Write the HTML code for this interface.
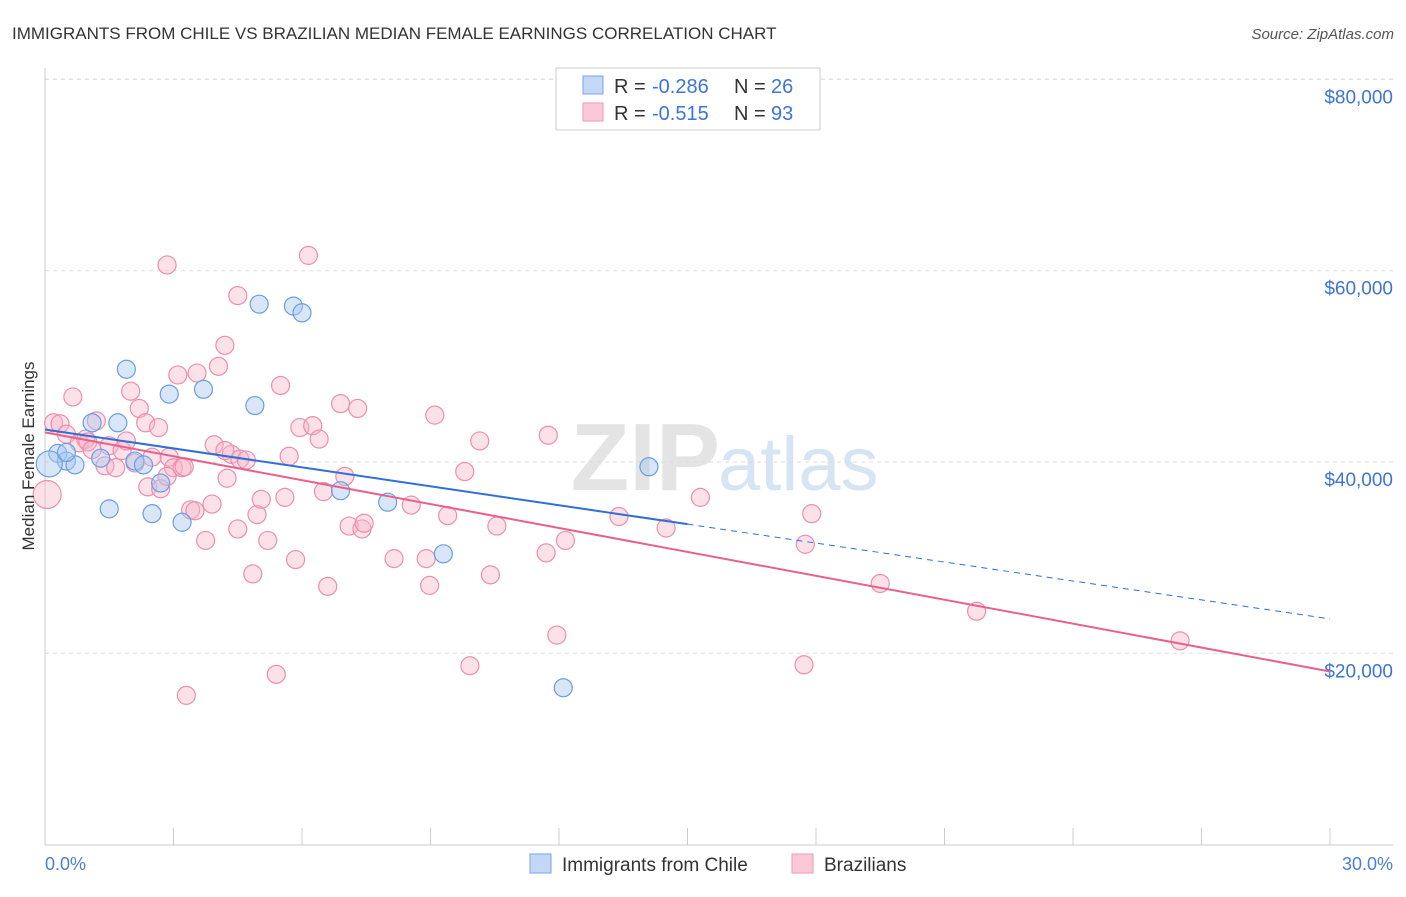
<!DOCTYPE html>
<html><head><meta charset="utf-8"><style>
body{margin:0;background:#fff;font-family:"Liberation Sans",sans-serif;}
svg text{font-family:"Liberation Sans",sans-serif;}
</style></head><body>
<svg width="1406" height="892" viewBox="0 0 1406 892">
<text x="12" y="39" font-size="17" fill="#333">IMMIGRANTS FROM CHILE VS BRAZILIAN MEDIAN FEMALE EARNINGS CORRELATION CHART</text>
<text x="1394" y="39" font-size="15" fill="#555" font-style="italic" text-anchor="end">Source: ZipAtlas.com</text>
<text x="720" y="490" font-size="96" font-weight="bold" fill="#e4e4e4" text-anchor="end" font-family="Liberation Serif">ZIP</text>
<text x="718" y="490" font-size="76" fill="#d6e4f4">atlas</text>
<g id="grid"></g>
<line x1="45" y1="68" x2="45" y2="845" stroke="#ccc"/>
<line x1="45" y1="845" x2="1393" y2="845" stroke="#ccc"/>
<g id="pts"></g>
<g id="lines"></g>
<text x="34" y="456" font-size="17" fill="#333" text-anchor="middle" transform="rotate(-90 34 456)">Median Female Earnings</text>
<text x="45" y="870" font-size="18" fill="#4a7fd4">0.0%</text>
<text x="1393" y="870" font-size="18" fill="#4a7fd4" text-anchor="end">30.0%</text>
<g>
<rect x="556" y="68" width="264" height="62" fill="#fff" stroke="#ccc"/>
<rect x="583" y="76" width="20" height="18" fill="#c2d8f6" stroke="#7aa6e4"/>
<rect x="583" y="103" width="20" height="18" fill="#fbc8d8" stroke="#ee9ab6"/>
<text x="614" y="93" font-size="20" fill="#333">R =</text>
<text x="652" y="93" font-size="20" fill="#3d74d6">-0.286</text>
<text x="734" y="93" font-size="20" fill="#333">N =</text>
<text x="771" y="93" font-size="20" fill="#3d74d6">26</text>
<text x="614" y="120" font-size="20" fill="#333">R =</text>
<text x="652" y="120" font-size="20" fill="#3d74d6">-0.515</text>
<text x="734" y="120" font-size="20" fill="#333">N =</text>
<text x="771" y="120" font-size="20" fill="#3d74d6">93</text>
</g>
<g>
<rect x="530" y="854" width="21" height="19" fill="#c2d8f6" stroke="#7aa6e4"/>
<text x="562" y="871" font-size="19" fill="#333">Immigrants from Chile</text>
<rect x="792" y="854" width="21" height="19" fill="#fbc8d8" stroke="#ee9ab6"/>
<text x="824" y="871" font-size="19" fill="#333">Brazilians</text>
</g>
</svg>
<script>
const yTicks=[20000,40000,60000,80000];
const yTickLabels=["$20,000","$40,000","$60,000","$80,000"];
const xTicks=[0,3,6,9,12,15,18,21,24,27,30];
const chileX=[0.3,0.5,0.7,1.1,1.3,1.5,1.7,1.9,2.1,2.3,2.5,2.7,2.9,3.2,3.7,4.9,5.0,5.8,6.0,6.9,8.0,9.3,12.1,14.1,0.1,0.5];
const chileY=[40900,40100,39700,44100,40400,35100,44100,49700,40100,39700,34600,37800,47100,33700,47600,45900,56500,56300,55600,37000,35800,30400,16400,39500,39800,41000];
const brazX=[0.05,0.2,0.35,0.5,0.65,0.8,0.95,1.0,1.2,1.4,1.5,1.65,1.8,1.9,2.0,2.1,2.2,2.35,2.4,2.5,2.65,2.7,2.85,2.9,3.0,3.1,3.2,3.25,3.4,3.5,3.55,3.75,3.9,3.95,4.05,4.2,4.25,4.35,4.5,4.55,4.7,4.85,4.95,5.05,5.2,5.4,5.5,5.6,5.7,5.85,5.95,6.15,6.25,6.4,6.5,6.6,6.9,7.0,7.1,7.3,7.4,7.45,8.15,8.55,8.9,8.98,9.1,9.4,9.8,9.92,10.15,10.4,10.55,11.7,11.75,11.95,12.15,13.4,14.5,15.3,17.75,17.9,17.72,19.5,21.75,26.5,3.3,4.5,2.85,4.2,1.1];
const brazY=[36600,44100,44000,42900,46800,42000,42400,42100,44300,39600,41700,39400,41200,42200,47400,39900,45600,44100,37400,40500,43600,37200,60600,40500,39400,49100,39400,39500,35000,34900,49300,31800,35600,41800,50000,52200,38300,40800,33000,40300,40200,28300,34500,36100,31800,17800,48000,36300,40600,29800,43600,61600,43800,42400,36900,27000,46100,38500,33300,45600,33000,33600,29900,35500,29900,27100,44900,34400,39000,18700,42200,28200,33300,30500,42800,21900,31800,34300,33100,36300,31400,34600,18800,27300,24400,21300,15600,57400,38500,41200,41300];
const chileLine=[43400,33500,23600];
const brazLine=[43100,18100];
const NS='http://www.w3.org/2000/svg';
const X0=45,X1=1330,Y0=844.6,YS=191.3/20000;
const sx=v=>X0+(X1-X0)*v/30, sy=v=>Y0-v*YS;
function mk(t,a,p){const e=document.createElementNS(NS,t);for(const k in a)e.setAttribute(k,a[k]);p.appendChild(e);return e;}
const grid=document.getElementById('grid');
mk('line',{x1:45,y1:79,x2:1393,y2:79,stroke:'#ddd','stroke-dasharray':'4,4'},grid);
yTicks.forEach((v,i)=>{
 const l=mk('line',{x1:45,y1:sy(v),x2:1393,y2:sy(v),stroke:'#ddd','stroke-dasharray':'4,4'},grid);
 
 
 const t=mk('text',{x:1393,y:sy(v)+24,'font-size':19,fill:'#3d74d6','text-anchor':'end'},grid);
 t.textContent=yTickLabels[i];
 
 
});
xTicks.forEach(v=>{
 const l=mk('line',{x1:sx(v),y1:828,x2:sx(v),y2:845,stroke:'#ccc'},grid);
 
 
});
const pts=document.getElementById('pts');
brazX.forEach((x,i)=>{
 const c=mk('circle',{cx:sx(x),cy:sy(brazY[i]),r:i==0?14:9,fill:'#f7b4c8','fill-opacity':0.4,stroke:'#ec8fae','stroke-width':1.2},pts);
 
 
});
chileX.forEach((x,i)=>{
 const c=mk('circle',{cx:sx(x),cy:sy(chileY[i]),r:i==24?13:9,fill:'#a9c7f0','fill-opacity':0.45,stroke:'#6a9ee2','stroke-width':1.2},pts);
 
 
});
const lg=document.getElementById('lines');
const l1=mk('line',{x1:sx(0),y1:sy(chileLine[0]),x2:sx(15),y2:sy(chileLine[1]),stroke:'#2f6fd6','stroke-width':2},lg);


const l2=mk('line',{x1:sx(15),y1:sy(chileLine[1]),x2:sx(30),y2:sy(chileLine[2]),stroke:'#2f6fd6','stroke-width':1,'stroke-dasharray':'6,5'},lg);


const l3=mk('line',{x1:sx(0),y1:sy(brazLine[0]),x2:sx(30),y2:sy(brazLine[1]),stroke:'#e8608e','stroke-width':2},lg);


</script>
</body></html>
